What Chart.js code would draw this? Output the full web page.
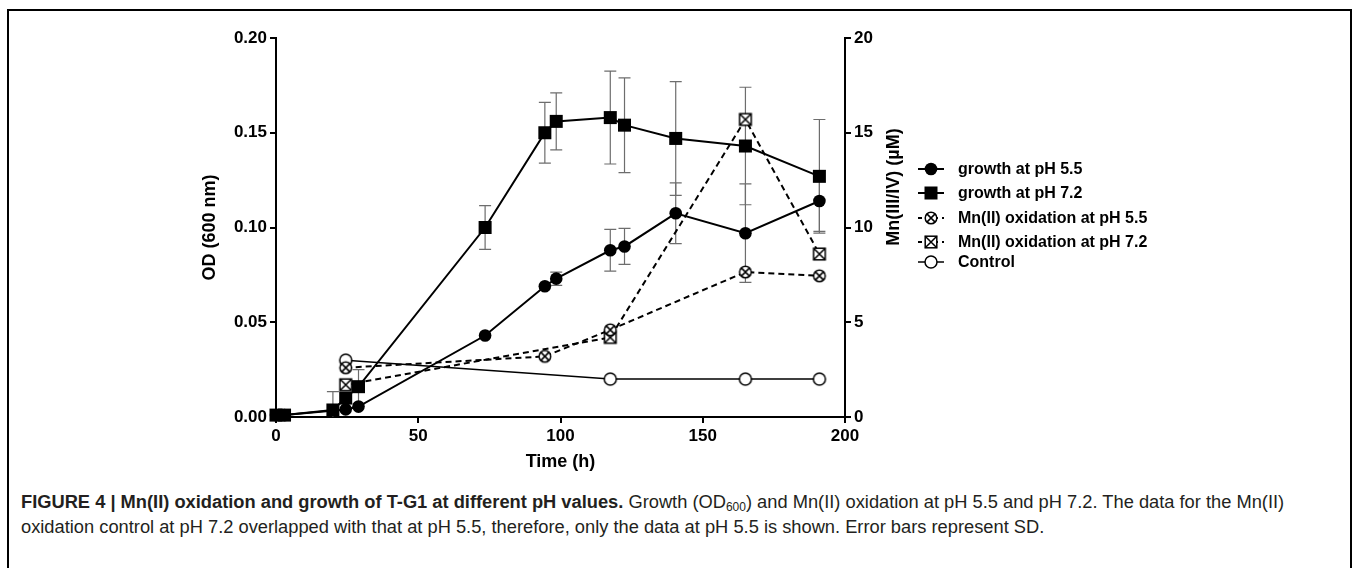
<!DOCTYPE html>
<html>
<head>
<meta charset="utf-8">
<script src="https://cdn.jsdelivr.net/npm/chart.js"></script>
<style>
  html, body { margin: 0; padding: 0; background: #fff; }
  body { width: 1360px; height: 568px; position: relative; overflow: hidden; }
  #frame {
    position: absolute; left: 7px; top: 9px; width: 1345px; height: 600px;
    border: 2px solid #000; box-sizing: border-box;
  }
  #wrap { position: absolute; left: 0; top: 0; width: 1360px; height: 480px; }
  #caption {
    position: absolute; left: 21px; top: 489px;
    font-family: "Liberation Sans", Arial, sans-serif; font-size: 18.3px;
    line-height: 25px; color: #231f20; white-space: nowrap;
  }
  #caption b { font-weight: bold; }
  #caption sub { font-size: 12px; vertical-align: -3px; line-height: 0; }
</style>
</head>
<body>
<div id="frame"></div>
<div id="wrap"><canvas id="chart" width="1360" height="480"></canvas></div>
<div id="caption">
  <b>FIGURE 4 | Mn(II) oxidation and growth of T-G1 at different pH values.</b> Growth (OD<sub>600</sub>) and Mn(II) oxidation at pH 5.5 and pH 7.2. The data for the Mn(II)<br>
  oxidation control at pH 7.2 overlapped with that at pH 5.5, therefore, only the data at pH 5.5 is shown. Error bars represent SD.
</div>
<script>
// values (time in h, OD600 on the left axis, Mn(III/IV) in uM on the right)
const timeGrowth72 = [0, 3, 20, 24.5, 29, 73.5, 94.5, 98.5, 117.5, 122.5, 140.5, 165, 191];
const odGrowth72   = [0.001, 0.001, 0.0037, 0.010, 0.016, 0.100, 0.150, 0.156, 0.158, 0.154, 0.147, 0.143, 0.127];
const sdGrowth72   = [0, 0, 0.0097, 0, 0.009, 0.0115, 0.016, 0.015, 0.0245, 0.025, 0.030, 0.031, 0.030];

const timeGrowth55 = [0, 3, 24.5, 29, 73.5, 94.5, 98.5, 117.5, 122.5, 140.5, 165, 191];
const odGrowth55   = [0.001, 0.001, 0.004, 0.0055, 0.043, 0.069, 0.073, 0.088, 0.090, 0.1075, 0.097, 0.114];
const sdGrowth55   = [0, 0, 0, 0, 0, 0, 0.0035, 0.011, 0.0095, 0.016, 0.026, 0.016];

const timeMn55 = [24.5, 94.5, 117.5, 165, 191];
const mnOx55   = [2.6, 3.2, 4.6, 7.65, 7.45];

const timeMn72 = [24.5, 117.5, 165, 191];
const mnOx72   = [1.7, 4.2, 15.7, 8.6];

const timeControl = [24.5, 117.5, 165, 191];
const mnControl   = [3.0, 2.0, 2.0, 2.0];

const odTicks = [0, 0.05, 0.10, 0.15, 0.20];
const mnTicks = [0, 5, 10, 15, 20];
const timeTicks = [0, 50, 100, 150, 200];

const FONT = '"Liberation Sans", Arial, sans-serif';

// marker drawing, shared by the datasets (as pointStyle images) and the legend
function drawMarker(ctx, kind, x, y) {
  ctx.save();
  ctx.strokeStyle = '#000';
  ctx.fillStyle = '#000';
  ctx.lineWidth = 1.5;
  if (kind === 'circle') {
    ctx.beginPath(); ctx.arc(x, y, 6.3, 0, Math.PI * 2); ctx.fill();
  } else if (kind === 'square') {
    ctx.fillRect(x - 6.5, y - 6.5, 13, 13);
  } else if (kind === 'ocircle') {
    ctx.fillStyle = '#fff';
    ctx.beginPath(); ctx.arc(x, y, 6, 0, Math.PI * 2); ctx.fill(); ctx.stroke();
  } else if (kind === 'xcircle') {
    const r = 5.8, d = r * Math.SQRT1_2;
    ctx.fillStyle = '#fff';
    ctx.beginPath(); ctx.arc(x, y, r, 0, Math.PI * 2); ctx.fill(); ctx.stroke();
    ctx.beginPath();
    ctx.moveTo(x - d, y - d); ctx.lineTo(x + d, y + d);
    ctx.moveTo(x + d, y - d); ctx.lineTo(x - d, y + d);
    ctx.stroke();
  } else if (kind === 'xsquare') {
    const h = 5.8;
    ctx.fillStyle = '#fff';
    ctx.fillRect(x - h, y - h, 2 * h, 2 * h);
    ctx.strokeRect(x - h, y - h, 2 * h, 2 * h);
    ctx.beginPath();
    ctx.moveTo(x - h, y - h); ctx.lineTo(x + h, y + h);
    ctx.moveTo(x + h, y - h); ctx.lineTo(x - h, y + h);
    ctx.stroke();
  }
  ctx.restore();
}

function markerImage(kind) {
  const c = document.createElement('canvas');
  c.width = 16; c.height = 16;
  drawMarker(c.getContext('2d'), kind, 8, 8);
  return c;
}

function toPoints(xs, ys) {
  return xs.map((x, i) => ({ x: x, y: ys[i] }));
}

// vertical SD bars drawn behind the markers, cut at the x axis
const errorBars = {
  id: 'errorBars',
  beforeDatasetsDraw(chart) {
    const ctx = chart.ctx;
    const area = chart.chartArea;
    ctx.save();
    ctx.beginPath();
    ctx.rect(0, 0, chart.width, area.bottom);
    ctx.clip();
    ctx.strokeStyle = '#6d6d6d';
    ctx.lineWidth = 1.2;
    chart.data.datasets.forEach((ds, i) => {
      if (!ds.sd) return;
      const meta = chart.getDatasetMeta(i);
      const yScale = chart.scales[ds.yAxisID];
      meta.data.forEach((pt, j) => {
        const sd = ds.sd[j];
        if (!sd) return;
        const v = ds.data[j].y;
        const top = yScale.getPixelForValue(v + sd);
        const bot = yScale.getPixelForValue(v - sd);
        ctx.beginPath();
        ctx.moveTo(pt.x, top); ctx.lineTo(pt.x, bot);
        ctx.moveTo(pt.x - 6, top); ctx.lineTo(pt.x + 6, top);
        ctx.moveTo(pt.x - 6, bot); ctx.lineTo(pt.x + 6, bot);
        ctx.stroke();
      });
    });
    ctx.restore();
  }
};

// legend to the right of the right-hand axis
const legendRows = [
  { label: 'growth at pH 5.5', marker: 'circle', dash: false, y: 169 },
  { label: 'growth at pH 7.2', marker: 'square', dash: false, y: 193 },
  { label: 'Mn(II) oxidation at pH 5.5', marker: 'xcircle', dash: true, y: 218 },
  { label: 'Mn(II) oxidation at pH 7.2', marker: 'xsquare', dash: true, y: 242 },
  { label: 'Control', marker: 'ocircle', dash: false, thin: true, y: 262 }
];

const sideLegend = {
  id: 'sideLegend',
  afterDraw(chart) {
    const ctx = chart.ctx;
    ctx.save();
    legendRows.forEach(row => {
      ctx.strokeStyle = '#000';
      ctx.lineWidth = row.thin ? 1.5 : 2;
      ctx.setLineDash(row.dash ? [4, 4] : []);
      ctx.beginPath();
      ctx.moveTo(918, row.y); ctx.lineTo(944, row.y);
      ctx.stroke();
      ctx.setLineDash([]);
      drawMarker(ctx, row.marker, 931, row.y);
      ctx.fillStyle = '#000';
      ctx.font = 'bold 16px ' + FONT;
      ctx.textBaseline = 'middle';
      ctx.fillText(row.label, 958, row.y + 1);
    });

    // right axis title reads bottom-to-top, like the left one
    const y2 = chart.scales.y2;
    ctx.translate(y2.right - 15, 187);
    ctx.rotate(-Math.PI / 2);
    ctx.font = 'bold 18px ' + FONT;
    ctx.textAlign = 'center';
    ctx.textBaseline = 'middle';
    ctx.fillStyle = '#000';
    ctx.fillText('Mn(III/IV) (µM)', 0, 0);
    ctx.restore();
  }
};

const axisGrid = {
  display: true, drawOnChartArea: false, drawTicks: true,
  tickLength: 6, color: '#000', lineWidth: 2
};
const axisBorder = { display: true, color: '#000', width: 2 };
const tickFont = { family: FONT, size: 17, weight: 'bold' };
const titleFont = { family: FONT, size: 18, weight: 'bold' };

new Chart(document.getElementById('chart'), {
  type: 'line',
  data: {
    datasets: [
      {
        label: 'growth at pH 5.5', yAxisID: 'y',
        data: toPoints(timeGrowth55, odGrowth55), sd: sdGrowth55,
        borderColor: '#000', borderWidth: 2,
        pointStyle: 'circle', pointRadius: 6.3, pointBackgroundColor: '#000', pointBorderWidth: 0
      },
      {
        label: 'growth at pH 7.2', yAxisID: 'y',
        data: toPoints(timeGrowth72, odGrowth72), sd: sdGrowth72,
        borderColor: '#000', borderWidth: 2,
        pointStyle: 'rect', pointRadius: 9.2, pointBackgroundColor: '#000', pointBorderWidth: 0
      },
      {
        label: 'Mn(II) oxidation at pH 5.5', yAxisID: 'y2',
        data: toPoints(timeMn55, mnOx55),
        borderColor: '#000', borderWidth: 2, borderDash: [6, 4],
        pointStyle: markerImage('xcircle')
      },
      {
        label: 'Mn(II) oxidation at pH 7.2', yAxisID: 'y2',
        data: toPoints(timeMn72, mnOx72),
        borderColor: '#000', borderWidth: 2, borderDash: [6, 4],
        pointStyle: markerImage('xsquare')
      },
      {
        label: 'Control', yAxisID: 'y2',
        data: toPoints(timeControl, mnControl),
        borderColor: '#000', borderWidth: 1.5,
        pointStyle: markerImage('ocircle')
      }
    ]
  },
  options: {
    responsive: false,
    animation: false,
    events: [],
    datasets: { line: { tension: 0, clip: false, fill: false } },
    layout: { padding: { left: 195, right: 451, top: 38, bottom: 3 } },
    plugins: { legend: { display: false }, tooltip: { enabled: false } },
    scales: {
      x: {
        type: 'linear', min: 0, max: 200,
        afterBuildTicks: s => { s.ticks = timeTicks.map(v => ({ value: v })); },
        afterFit: s => { s.height = 60; },
        grid: axisGrid, border: axisBorder,
        ticks: { color: '#000', font: tickFont, padding: 3, maxRotation: 0 },
        title: { display: true, text: 'Time (h)', color: '#000', font: titleFont, padding: { top: 2, bottom: 4 } }
      },
      y: {
        type: 'linear', position: 'left', min: 0, max: 0.2,
        afterBuildTicks: s => { s.ticks = odTicks.map(v => ({ value: v })); },
        afterFit: s => { s.width = 81; },
        grid: axisGrid, border: axisBorder,
        ticks: { color: '#000', font: tickFont, padding: 3, callback: v => v.toFixed(2) },
        title: { display: true, text: 'OD (600 nm)', color: '#000', font: titleFont, padding: 4 }
      },
      y2: {
        type: 'linear', position: 'right', min: 0, max: 20,
        afterBuildTicks: s => { s.ticks = mnTicks.map(v => ({ value: v })); },
        afterFit: s => { s.width = 64; },
        grid: axisGrid, border: axisBorder,
        ticks: { color: '#000', font: tickFont, padding: 3 },
        title: { display: false }
      }
    }
  },
  plugins: [errorBars, sideLegend]
});
</script>
</body>
</html>
